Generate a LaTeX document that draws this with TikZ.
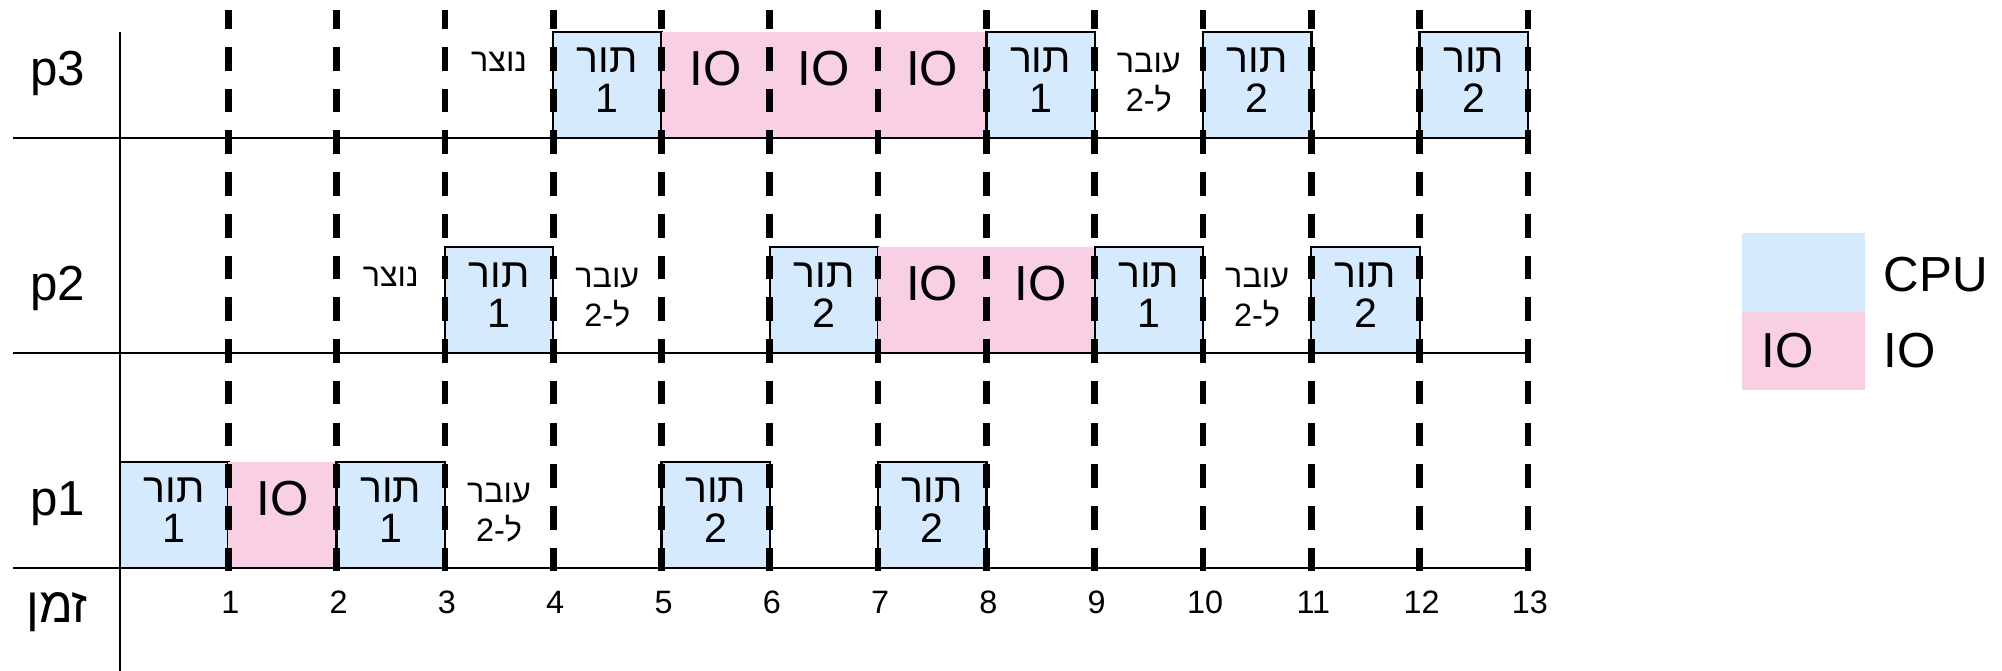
\documentclass[tikz,border=0pt]{standalone}
\usepackage{fontspec}
\setmainfont{Liberation Sans}
\newfontfamily\hebfont[Script=Hebrew]{Liberation Sans}
\TeXXeTstate=1
\definecolor{cpufill}{HTML}{D5EAFC}
\definecolor{iofill}{HTML}{F9CFE4}

\newcommand\heb[1]{{\hebfont\beginR #1\endR}}
% x position of time t (in pixel units)
\newcommand\tx[1]{120+108.3*(#1)}

% a CPU slot: box plus "תור" and queue number
\newcommand\cpuslot[4]{%
  \node[cpubox] (#1) at ({\tx{#2}},#3) {};
  \node[boxtxt] (#1h) at ({\tx{#2+0.5}},{#3+41}) {\heb{תור}};
  \node[boxtxt] (#1n) at ({\tx{#2+0.5}},{#3+81}) {#4};
}
% an IO stretch of #4 slots
\newcommand\ioblock[4]{%
  \node[iobox, minimum width={1.083cm*#4}] (#1) at ({\tx{#2}},#3) {};
}
\newcommand\iolabel[3]{%
  \node[bigtxt] (#1) at ({\tx{#2+0.5}},{#3+54}) {IO};
}
% "moves to queue 2"
\newcommand\swslot[3]{%
  \node[smalltxt] (#1a) at ({\tx{#2+0.5}},{#3+41}) {\heb{עובר}};
  \node[smalltxt] (#1b) at ({\tx{#2+0.5}},{#3+80}) {2-{\hebfont ל}};
}
% "created"
\newcommand\bornslot[3]{%
  \node[smalltxt] (#1) at ({\tx{#2+0.5}},{#3+40}) {\heb{נוצר}};
}

\tikzset{
  cpubox/.style={draw=black, line width=0.65pt, fill=cpufill, inner sep=0pt, outer sep=0pt,
    anchor=north west, minimum width=1.083cm, minimum height=1.06cm},
  iobox/.style={fill=iofill, inner sep=0pt, outer sep=0pt, anchor=north west, minimum height=1.06cm},
  bigtxt/.style={font=\fontsize{14}{16}\selectfont, anchor=base, inner sep=0pt},
  boxtxt/.style={font=\fontsize{11.7}{13}\selectfont, anchor=base, inner sep=0pt},
  smalltxt/.style={font=\fontsize{9.2}{11}\selectfont, anchor=base, inner sep=0pt},
  rowline/.style={line width=0.8pt},
  tickline/.style={line width=1.9pt, dash pattern=on 6.69pt off 5.18pt, dash phase=1.34pt},
}

\begin{document}
\begin{tikzpicture}[x=0.01cm, y=-0.01cm]
\useasboundingbox (0,0) rectangle (2002,671);

% ---- p3 (top at 32) ----
\bornslot{ca}{3}{32}
\cpuslot{ca1}{4}{32}{1}
\ioblock{caio}{5}{32}{3}
\iolabel{caio1}{5}{32}
\iolabel{caio2}{6}{32}
\iolabel{caio3}{7}{32}
\cpuslot{ca2}{8}{32}{1}
\swslot{casw}{9}{32}
\cpuslot{ca3}{10}{32}{2}
\cpuslot{ca4}{12}{32}{2}

% ---- p2 (top at 247) ----
\bornslot{cb}{2}{247}
\cpuslot{cb1}{3}{247}{1}
\swslot{cbsw}{4}{247}
\cpuslot{cb2}{6}{247}{2}
\ioblock{cbio}{7}{247}{2}
\iolabel{cbio1}{7}{247}
\iolabel{cbio2}{8}{247}
\cpuslot{cb3}{9}{247}{1}
\swslot{cbswb}{10}{247}
\cpuslot{cb4}{11}{247}{2}

% ---- p1 (top at 462) ----
\cpuslot{cc1}{0}{462}{1}
\ioblock{ccio}{1}{462}{1}
\iolabel{ccio1}{1}{462}
\cpuslot{cc2}{2}{462}{1}
\swslot{ccsw}{3}{462}
\cpuslot{cc3}{5}{462}{2}
\cpuslot{cc4}{7}{462}{2}

% row base lines and time axis
\foreach \r/\y in {3/138, 2/353, 1/568} {
  \coordinate (r\r w) at (13,\y);
  \coordinate (r\r e) at (1528,\y);
  \draw[rowline] (r\r w) -- (r\r e);
}
\coordinate (axt) at (120,32);
\coordinate (axb) at (120,671);
\draw[rowline] (axt) -- (axb);

% time ticks
\foreach \t in {1,...,13} {
  \coordinate (d\t t) at ({\tx{\t}},10);
  \coordinate (d\t b) at ({\tx{\t}},571);
  \draw[tickline] (d\t t) -- (d\t b);
  \node[smalltxt] (lab\t) at ({\tx{\t}+2},614) {\t};
}

% row labels
\node[bigtxt] (p3) at (58,86) {p3};
\node[bigtxt] (p2) at (58,301) {p2};
\node[bigtxt] (p1) at (58,516) {p1};
\node[bigtxt] (zman) at (57,623) {\heb{זמן}};

% legend
\node[fill=cpufill, inner sep=0pt, outer sep=0pt, anchor=north west,
      minimum width=1.23cm, minimum height=0.79cm] (legcpu) at (1742,233) {};
\node[fill=iofill, inner sep=0pt, outer sep=0pt, anchor=north west,
      minimum width=1.23cm, minimum height=0.78cm] (legio) at (1742,312) {};
\node[bigtxt] (legiotxt) at (1787.5,368) {IO};
\node[bigtxt, anchor=base west] (legcputxt) at (1883,292) {CPU};
\node[bigtxt, anchor=base west] (legiolab) at (1883,368) {IO};
\end{tikzpicture}
\end{document}
